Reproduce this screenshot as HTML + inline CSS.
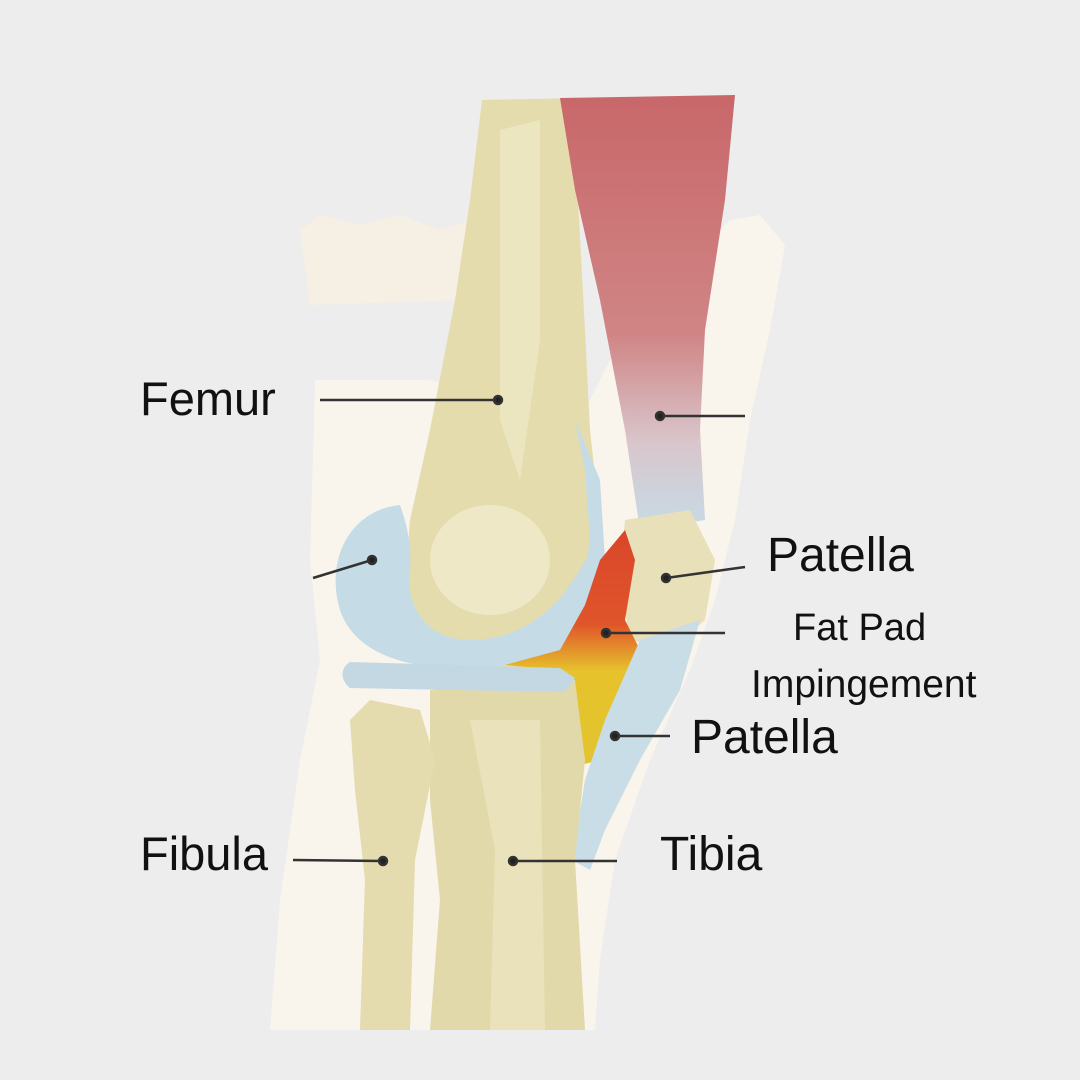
<!DOCTYPE html>
<html><head><style>
html,body{margin:0;padding:0;background:#ededed}
svg{display:block}
text{font-family:"Liberation Sans",sans-serif;fill:#111}
</style></head><body>
<svg width="1080" height="1080" viewBox="0 0 1080 1080" xmlns="http://www.w3.org/2000/svg">
<defs>
<linearGradient id="mus" x1="0" y1="0" x2="0" y2="1">
<stop offset="0" stop-color="#c8676a"/><stop offset="0.55" stop-color="#d08585"/><stop offset="0.8" stop-color="#d9c6cc"/><stop offset="1" stop-color="#c6dbe6"/>
</linearGradient>
<linearGradient id="fat" x1="0" y1="0" x2="0" y2="1">
<stop offset="0" stop-color="#d9462a"/><stop offset="0.4" stop-color="#e0552a"/><stop offset="0.6" stop-color="#e6c22c"/><stop offset="1" stop-color="#e2c52e"/>
</linearGradient>
</defs>
<rect width="1080" height="1080" fill="#ededed"/>
<path d="M300 230 L320 215 L360 225 L400 215 L440 230 L470 220 L470 300 L310 305 Z" fill="#f6efe3"/>
<path d="M730 220 L760 215 L785 245 L770 330 L750 420 L735 520 L715 600 L690 670 L650 760 L615 860 L600 960 L595 1030 L270 1030 L280 900 L300 760 L320 660 L310 560 L315 380 L430 380 L580 420 L640 300 L700 250 Z" fill="#f9f4ec"/>
<path d="M482 100 L575 98 L578 200 L585 330 L590 430 L600 520 L595 600 L560 660 L470 680 L420 650 L405 590 L410 520 L430 430 L455 300 L470 200 Z" fill="#e5dcae"/>
<path d="M500 130 L540 120 L540 340 L520 480 L500 420 Z" fill="#f0e9c8" opacity="0.7"/>
<ellipse cx="490" cy="560" rx="60" ry="55" fill="#f2ecd0" opacity="0.7"/>
<path d="M560 98 L735 95 L725 200 L705 330 L700 430 L705 520 L640 530 L625 430 L600 300 L575 190 Z" fill="url(#mus)"/>
<path d="M625 520 L690 510 L715 560 L705 620 L670 650 L630 640 L620 580 Z" fill="#e8e0b8"/>
<path d="M400 505 C350 510 325 560 340 610 C355 655 410 670 470 668 L560 660 L580 640 C600 610 590 580 585 560 C560 610 520 640 470 640 C430 640 405 610 410 570 C412 540 405 520 400 505 Z" fill="#c5dbe6"/>
<path d="M575 420 L600 480 L605 560 L590 620 L580 600 L590 540 L585 470 Z" fill="#c5dbe6"/>
<path d="M505 665 L560 650 L585 605 L600 560 L625 530 L635 560 L625 620 L640 650 L615 700 L600 760 L580 765 L575 700 L555 670 Z" fill="url(#fat)"/>
<path d="M640 640 L700 620 L680 690 L640 760 L605 830 L590 870 L572 860 L585 780 L605 720 Z" fill="#c9dde6"/>
<path d="M430 690 L575 680 L585 760 L575 860 L585 1030 L430 1030 L440 900 L430 800 Z" fill="#e2d9aa"/>
<path d="M470 720 L540 720 L545 1030 L490 1030 L495 850 Z" fill="#ece5c2" opacity="0.7"/>
<path d="M350 720 L370 700 L420 710 L435 760 L415 860 L410 1030 L360 1030 L365 880 L355 790 Z" fill="#e4dbae"/>
<path d="M350 662 L560 668 L575 678 L565 692 L350 688 C340 680 340 668 350 662 Z" fill="#c3d8e3"/>
<g stroke="#333" stroke-width="2.5" fill="#222">
<line x1="320" y1="400" x2="498" y2="400"/><circle cx="498" cy="400" r="4"/>
<line x1="660" y1="416" x2="745" y2="416"/><circle cx="660" cy="416" r="4"/>
<line x1="313" y1="578" x2="372" y2="560"/><circle cx="372" cy="560" r="4"/>
<line x1="666" y1="578" x2="745" y2="567"/><circle cx="666" cy="578" r="4"/>
<line x1="606" y1="633" x2="725" y2="633"/><circle cx="606" cy="633" r="4"/>
<line x1="615" y1="736" x2="670" y2="736"/><circle cx="615" cy="736" r="4"/>
<line x1="293" y1="860" x2="383" y2="861"/><circle cx="383" cy="861" r="4"/>
<line x1="513" y1="861" x2="617" y2="861"/><circle cx="513" cy="861" r="4"/>
</g>
<text x="140" y="415" font-size="47">Femur</text>
<text x="767" y="571" font-size="48">Patella</text>
<text x="793" y="640" font-size="38">Fat Pad</text>
<text x="751" y="697" font-size="39">Impingement</text>
<text x="691" y="753" font-size="48">Patella</text>
<text x="140" y="870" font-size="47">Fibula</text>
<text x="660" y="870" font-size="48">Tibia</text>
</svg>
</body></html>
